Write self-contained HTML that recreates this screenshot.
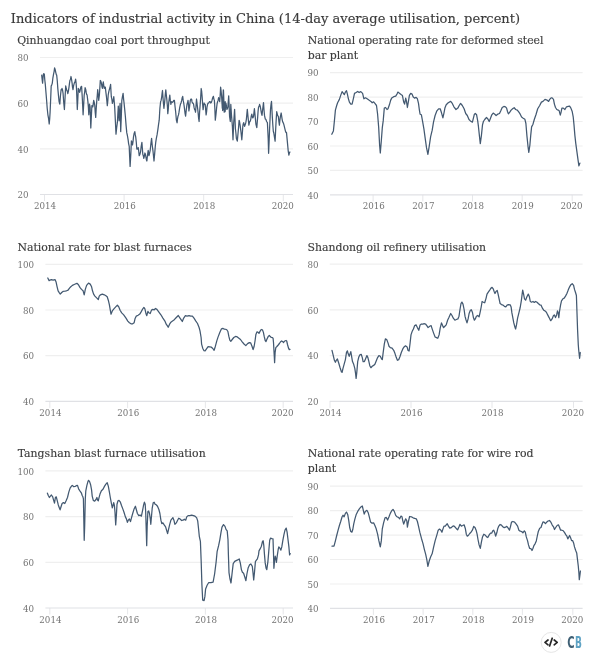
<!DOCTYPE html>
<html><head><meta charset="utf-8"><title>Indicators of industrial activity in China</title>
<style>html,body{margin:0;padding:0;background:#fff;width:606px;height:672px;overflow:hidden}svg{display:block}text{font-family:'DejaVu Serif', 'Liberation Serif', serif}</style>
</head><body>
<svg width="606" height="672" viewBox="0 0 606 672">
<rect width="606" height="672" fill="#fff"/>
<text x="10.8" y="22.7" font-size="13.04" fill="#3a3a3a" text-anchor="start" stroke="#3a3a3a" stroke-width="0.15">Indicators of industrial activity in China (14-day average utilisation, percent)</text>
<text x="17.2" y="43.7" font-size="10.9" fill="#3d3d3d" text-anchor="start" stroke="#444" stroke-width="0.15">Qinhuangdao coal port throughput</text>
<text x="28.6" y="61.2" font-size="8.7" fill="#737373" text-anchor="end">80</text>
<text x="28.6" y="106.9" font-size="8.7" fill="#737373" text-anchor="end">60</text>
<text x="28.6" y="152.5" font-size="8.7" fill="#737373" text-anchor="end">40</text>
<text x="28.6" y="198.2" font-size="8.7" fill="#737373" text-anchor="end">20</text>
<line x1="40" y1="57.5" x2="293" y2="57.5" stroke="#efefef" stroke-width="1.2"/>
<line x1="40" y1="103.2" x2="293" y2="103.2" stroke="#efefef" stroke-width="1.2"/>
<line x1="40" y1="148.8" x2="293" y2="148.8" stroke="#efefef" stroke-width="1.2"/>
<line x1="40" y1="194.5" x2="293" y2="194.5" stroke="#e0e1e5" stroke-width="1.2"/>
<line x1="44.5" y1="194.5" x2="44.5" y2="201.0" stroke="#e0e1e5" stroke-width="0.8"/>
<text x="45.1" y="209.0" font-size="8.7" fill="#737373" text-anchor="middle">2014</text>
<line x1="124.1" y1="194.5" x2="124.1" y2="201.0" stroke="#e0e1e5" stroke-width="0.8"/>
<text x="124.7" y="209.0" font-size="8.7" fill="#737373" text-anchor="middle">2016</text>
<line x1="203.7" y1="194.5" x2="203.7" y2="201.0" stroke="#e0e1e5" stroke-width="0.8"/>
<text x="204.3" y="209.0" font-size="8.7" fill="#737373" text-anchor="middle">2018</text>
<line x1="283.3" y1="194.5" x2="283.3" y2="201.0" stroke="#e0e1e5" stroke-width="0.8"/>
<text x="282.7" y="209.0" font-size="8.7" fill="#737373" text-anchor="middle">2020</text>
<path d="M41.7,75.2 L42.2,79.9 L42.6,83.1 L43.3,74.5 L43.8,73.6 L44.3,74.1 L44.8,80.0 L45.3,84.4 L45.9,91.7 L46.6,100.3 L47.2,108.2 L47.9,114.8 L48.6,118.7 L49.2,124.0 L49.7,118.8 L50.1,112.2 L50.7,98.3 L51.2,85.8 L51.7,85.1 L52.3,83.1 L52.9,77.8 L53.6,73.9 L54.1,71.6 L54.6,67.9 L55.2,69.6 L55.8,72.6 L56.3,74.6 L56.7,75.2 L57.3,81.1 L57.8,88.4 L58.5,95.7 L59.1,101.6 L59.8,104.2 L60.4,96.3 L61.1,89.7 L61.6,89.8 L62.0,88.4 L62.6,90.3 L63.1,93.7 L63.7,102.3 L64.4,109.5 L65.1,96.9 L65.7,85.8 L66.3,88.8 L66.8,90.4 L67.3,91.3 L67.8,93.7 L68.4,91.1 L69.0,87.1 L69.5,83.1 L69.9,80.5 L70.5,79.2 L71.0,76.5 L71.5,79.1 L72.1,83.1 L72.5,87.1 L73.0,89.7 L73.6,85.7 L74.3,83.1 L75.0,81.8 L75.6,79.2 L76.1,83.1 L76.5,88.4 L77.3,109.5 L77.8,99.7 L78.3,88.4 L78.9,89.7 L79.6,92.4 L80.0,91.1 L80.5,88.4 L81.0,86.7 L81.6,86.4 L82.2,96.3 L82.7,106.3 L83.1,114.8 L83.7,104.2 L84.2,95.0 L84.7,92.1 L85.1,87.7 L85.7,89.4 L86.2,92.4 L86.6,94.4 L87.1,95.0 L87.9,101.6 L88.4,107.5 L88.8,114.8 L89.5,104.2 L90.1,106.9 L90.8,128.0 L91.3,117.5 L91.9,105.6 L92.3,105.5 L92.8,106.9 L93.2,104.3 L93.7,100.3 L94.2,102.2 L94.8,105.6 L95.2,112.2 L95.7,117.4 L96.2,108.8 L96.7,101.6 L97.2,96.4 L97.7,89.7 L98.2,94.3 L98.7,100.3 L99.4,95.0 L99.8,88.4 L100.3,80.5 L100.8,81.1 L101.4,83.1 L101.9,86.5 L102.4,88.4 L102.9,84.4 L103.3,81.8 L103.8,85.8 L104.3,88.4 L104.8,87.0 L105.3,87.1 L105.9,92.4 L106.4,96.3 L106.8,100.2 L107.3,105.6 L107.8,101.0 L108.2,95.0 L108.8,91.7 L109.3,89.7 L109.9,87.8 L110.6,84.4 L111.3,96.7 L111.9,99.4 L112.4,103.4 L113.1,100.8 L113.8,96.7 L114.2,101.4 L114.7,107.4 L115.4,121.5 L116.0,134.2 L116.7,127.5 L117.4,122.2 L117.8,114.8 L118.3,106.1 L119.1,120.8 L119.6,111.4 L120.1,103.4 L120.7,131.6 L121.3,116.8 L121.8,100.7 L122.5,96.3 L123.1,93.4 L123.6,99.1 L124.1,103.4 L124.7,109.4 L125.4,116.8 L126.1,125.6 L126.8,132.9 L127.4,135.5 L128.1,139.6 L128.6,143.6 L129.2,146.3 L129.6,155.7 L130.1,166.4 L130.8,154.4 L131.4,140.9 L132.0,142.2 L132.5,145.0 L133.0,141.6 L133.5,136.9 L134.1,133.5 L134.8,131.6 L135.3,134.9 L135.7,136.9 L136.3,142.2 L136.8,149.0 L137.5,149.0 L138.2,147.6 L138.7,151.0 L139.2,155.7 L139.9,154.4 L140.6,151.7 L141.2,146.3 L141.9,142.3 L142.4,149.0 L142.8,154.3 L143.3,155.7 L143.8,158.4 L144.3,156.4 L144.9,153.0 L145.4,154.3 L145.9,157.0 L146.4,159.7 L146.9,161.0 L147.5,155.0 L148.2,150.3 L148.9,155.7 L149.5,153.7 L150.2,150.3 L150.9,143.6 L151.6,138.3 L152.2,145.0 L152.9,150.3 L153.4,155.0 L154.0,161.0 L154.6,154.4 L155.3,146.3 L155.8,141.8 L156.3,138.6 L157.1,134.7 L157.9,129.4 L158.6,124.1 L159.2,120.2 L159.9,108.3 L160.6,101.7 L161.1,100.4 L161.6,97.7 L162.1,93.4 L162.5,90.5 L163.2,100.4 L163.9,108.3 L164.3,105.0 L164.8,100.4 L165.3,94.4 L165.8,89.8 L166.4,95.8 L166.9,100.4 L167.4,106.3 L167.8,113.6 L168.3,109.0 L168.7,103.0 L169.3,98.3 L169.8,95.1 L170.3,100.4 L170.9,104.3 L171.3,102.3 L171.8,101.7 L172.4,102.4 L173.1,101.7 L173.8,100.3 L174.4,100.4 L175.1,107.0 L175.7,112.2 L176.4,120.2 L177.1,122.8 L177.5,118.8 L178.0,116.2 L178.5,114.9 L179.0,112.2 L179.7,107.6 L180.4,104.3 L181.0,103.0 L181.7,100.4 L182.2,97.7 L182.7,96.4 L183.2,100.4 L183.7,103.0 L184.1,105.6 L184.6,109.6 L185.1,113.6 L185.6,116.2 L186.3,109.6 L187.0,104.3 L187.5,103.0 L188.0,100.4 L188.5,104.9 L188.9,110.9 L189.6,106.3 L190.3,100.4 L190.9,99.0 L191.6,99.0 L192.0,101.7 L192.5,103.0 L193.0,103.0 L193.6,104.3 L194.1,107.7 L194.6,109.6 L195.1,110.2 L195.5,112.2 L196.0,106.3 L196.5,99.0 L197.3,105.6 L197.7,108.9 L198.2,113.6 L198.6,118.2 L199.1,121.5 L199.6,112.2 L200.2,104.3 L200.7,97.1 L201.2,88.5 L201.7,91.7 L202.1,96.4 L202.6,103.7 L203.1,109.6 L203.6,105.6 L204.1,103.0 L204.7,104.4 L205.2,104.3 L205.6,108.9 L206.1,114.9 L206.6,111.6 L207.0,107.0 L207.6,104.3 L208.1,103.0 L208.7,103.0 L209.4,101.7 L210.1,101.6 L210.7,103.0 L211.4,102.4 L212.0,100.4 L212.7,97.7 L213.4,96.4 L213.9,99.1 L214.4,100.4 L214.9,109.6 L215.3,120.2 L216.0,114.3 L216.7,107.0 L217.1,103.6 L217.6,101.7 L218.1,100.4 L218.6,97.7 L219.2,99.0 L219.7,101.7 L220.2,95.1 L220.6,87.2 L221.1,91.1 L221.6,96.4 L222.3,108.3 L222.8,99.7 L223.3,89.8 L223.7,100.3 L224.2,112.2 L224.7,107.7 L225.2,101.7 L222.6,110.5 L223.5,90.4 L224.2,110.5 L225.1,111.7 L225.9,103.2 L226.4,105.6 L226.9,109.3 L227.4,108.8 L227.9,106.9 L228.7,95.9 L229.6,116.6 L230.3,121.5 L230.8,104.4 L231.5,115.4 L232.4,126.4 L233.0,139.8 L233.7,122.7 L234.6,109.3 L235.4,128.8 L235.9,133.0 L236.4,138.6 L237.3,141.1 L238.1,132.5 L238.6,127.1 L239.1,120.3 L239.6,122.0 L240.1,125.2 L240.9,131.3 L241.8,139.8 L242.3,133.8 L242.8,126.4 L243.2,123.9 L243.7,122.7 L244.6,126.4 L245.4,124.0 L245.9,122.2 L246.4,119.1 L247.3,109.3 L248.0,116.6 L248.9,125.2 L249.4,122.6 L249.8,121.5 L250.3,121.0 L250.8,119.1 L251.3,115.9 L251.8,114.2 L252.3,116.7 L252.8,117.9 L253.5,116.6 L254.4,108.7 L255.2,116.6 L255.9,124.0 L256.8,127.6 L257.7,116.6 L258.1,111.0 L258.6,106.9 L259.1,106.3 L259.6,104.4 L260.2,106.2 L260.8,109.3 L261.4,113.1 L262.0,115.4 L262.8,108.3 L263.5,102.6 L264.0,109.7 L264.5,115.4 L265.3,119.1 L266.0,119.6 L266.6,121.5 L267.4,122.7 L268.2,138.6 L268.6,153.3 L269.1,141.8 L269.6,128.8 L270.5,109.3 L271.0,104.6 L271.5,101.4 L272.3,116.6 L272.8,124.7 L273.3,131.3 L273.8,133.0 L274.3,136.2 L275.1,141.1 L276.0,122.7 L276.7,111.7 L277.6,115.4 L278.4,116.6 L278.9,121.6 L279.4,125.2 L279.9,120.2 L280.4,116.6 L281.2,113.0 L282.1,119.1 L282.6,121.6 L283.1,122.7 L283.5,123.3 L284.0,125.2 L284.9,128.8 L285.5,131.3 L286.0,132.6 L286.5,132.5 L287.3,141.1 L288.2,150.8 L288.9,155.1 L289.4,152.9 L289.9,152.0" fill="none" stroke="#435971" stroke-width="1.25" stroke-linejoin="round" stroke-linecap="round"/>
<text x="307.7" y="44.0" font-size="10.9" fill="#3d3d3d" text-anchor="start" stroke="#444" stroke-width="0.15">National operating rate for deformed steel</text>
<text x="307.7" y="59.1" font-size="10.9" fill="#3d3d3d" text-anchor="start" stroke="#444" stroke-width="0.15">bar plant</text>
<text x="318.5" y="76.3" font-size="8.7" fill="#737373" text-anchor="end">90</text>
<text x="318.5" y="100.8" font-size="8.7" fill="#737373" text-anchor="end">80</text>
<text x="318.5" y="125.2" font-size="8.7" fill="#737373" text-anchor="end">70</text>
<text x="318.5" y="149.7" font-size="8.7" fill="#737373" text-anchor="end">60</text>
<text x="318.5" y="174.1" font-size="8.7" fill="#737373" text-anchor="end">50</text>
<text x="318.5" y="198.6" font-size="8.7" fill="#737373" text-anchor="end">40</text>
<line x1="330" y1="72.6" x2="582.6" y2="72.6" stroke="#efefef" stroke-width="1.2"/>
<line x1="330" y1="97.1" x2="582.6" y2="97.1" stroke="#efefef" stroke-width="1.2"/>
<line x1="330" y1="121.5" x2="582.6" y2="121.5" stroke="#efefef" stroke-width="1.2"/>
<line x1="330" y1="146.0" x2="582.6" y2="146.0" stroke="#efefef" stroke-width="1.2"/>
<line x1="330" y1="170.4" x2="582.6" y2="170.4" stroke="#efefef" stroke-width="1.2"/>
<line x1="330" y1="194.9" x2="582.6" y2="194.9" stroke="#e0e1e5" stroke-width="1.2"/>
<line x1="373.1" y1="194.9" x2="373.1" y2="201.4" stroke="#e0e1e5" stroke-width="0.8"/>
<text x="373.7" y="209.0" font-size="8.7" fill="#737373" text-anchor="middle">2016</text>
<line x1="422.8" y1="194.9" x2="422.8" y2="201.4" stroke="#e0e1e5" stroke-width="0.8"/>
<text x="423.4" y="209.0" font-size="8.7" fill="#737373" text-anchor="middle">2017</text>
<line x1="472.5" y1="194.9" x2="472.5" y2="201.4" stroke="#e0e1e5" stroke-width="0.8"/>
<text x="473.1" y="209.0" font-size="8.7" fill="#737373" text-anchor="middle">2018</text>
<line x1="522.2" y1="194.9" x2="522.2" y2="201.4" stroke="#e0e1e5" stroke-width="0.8"/>
<text x="522.8" y="209.0" font-size="8.7" fill="#737373" text-anchor="middle">2019</text>
<line x1="572.2" y1="194.9" x2="572.2" y2="201.4" stroke="#e0e1e5" stroke-width="0.8"/>
<text x="571.6" y="209.0" font-size="8.7" fill="#737373" text-anchor="middle">2020</text>
<path d="M331.8,134.3 L333.4,130.9 L334.4,120.9 L335.4,110.1 L336.7,105.5 L337.6,102.8 L339.4,99.4 L340.7,95.4 L342.1,91.6 L343.4,93.4 L344.3,94.7 L345.4,92.1 L346.5,90.7 L347.4,94.1 L348.4,98.8 L349.4,102.1 L350.8,104.1 L352.1,104.1 L353.5,98.1 L354.5,93.4 L356.1,92.5 L357.7,91.4 L359.1,92.5 L360.8,91.6 L362.6,93.4 L363.9,98.8 L365.5,97.8 L367.1,98.8 L368.9,100.1 L370.9,101.4 L372.2,102.8 L373.6,101.8 L374.9,103.4 L376.5,105.5 L377.6,114.2 L378.7,127.6 L379.6,145.0 L380.3,153.0 L381.3,141.0 L382.3,127.6 L383.2,120.9 L384.3,108.1 L385.6,107.5 L387.0,109.5 L388.0,108.8 L389.4,104.8 L390.7,100.1 L391.7,98.1 L393.7,96.7 L395.7,96.1 L397.0,94.1 L397.9,92.1 L399.7,93.4 L401.4,94.7 L402.4,95.4 L403.7,102.1 L404.6,104.1 L405.7,98.1 L406.4,100.8 L407.4,107.5 L408.3,102.1 L409.4,95.4 L410.7,93.4 L412.1,94.1 L413.1,96.7 L414.5,98.1 L416.1,97.4 L417.4,98.8 L418.5,103.4 L419.4,110.1 L420.1,114.2 L421.4,114.8 L422.5,120.9 L423.9,128.9 L425.2,138.3 L426.5,147.7 L427.9,154.4 L429.2,146.3 L430.6,136.9 L432.2,130.2 L433.5,122.2 L435.1,115.5 L436.9,110.8 L438.6,108.8 L440.2,108.8 L441.5,112.8 L442.9,117.9 L444.0,112.8 L444.9,108.1 L446.2,104.8 L448.2,102.8 L450.7,101.4 L452.3,103.4 L453.9,106.8 L456.0,109.5 L457.9,108.1 L459.2,105.5 L460.6,103.4 L462.3,105.5 L464.1,108.8 L465.7,113.5 L467.3,115.5 L469.0,119.5 L470.4,120.9 L472.4,122.2 L473.4,118.2 L474.4,114.2 L475.3,113.5 L476.6,114.8 L477.7,120.9 L478.4,126.2 L479.4,135.6 L480.3,143.6 L481.4,135.6 L482.5,124.9 L483.4,121.5 L484.7,119.5 L486.5,117.5 L487.8,118.9 L489.2,121.5 L490.5,118.2 L491.8,114.8 L493.2,113.1 L494.8,114.2 L496.1,115.5 L497.7,114.2 L499.5,113.5 L500.8,110.8 L502.2,107.5 L503.9,106.4 L505.5,106.8 L506.6,108.1 L507.5,111.5 L508.4,113.9 L509.8,112.2 L511.1,110.1 L512.9,108.5 L514.2,107.7 L515.6,109.5 L517.3,110.1 L518.9,112.2 L520.2,114.2 L521.6,117.1 L523.2,118.2 L524.9,119.3 L525.9,123.5 L526.9,135.6 L528.0,146.3 L528.8,152.4 L529.9,145.0 L530.7,135.6 L531.6,126.9 L533.0,124.2 L534.3,119.5 L536.1,114.2 L537.7,108.8 L539.7,105.5 L541.4,102.1 L543.0,101.4 L545.0,99.4 L547.0,100.1 L548.6,101.4 L549.7,99.4 L551.1,97.8 L552.1,97.8 L553.5,99.4 L554.4,104.1 L555.5,107.5 L556.8,109.5 L558.2,110.1 L559.2,110.8 L560.3,115.2 L561.1,112.2 L561.9,108.1 L563.3,108.1 L564.9,109.5 L566.5,106.8 L568.2,106.4 L569.6,106.1 L570.9,108.1 L572.2,111.5 L573.2,116.8 L574.0,124.9 L574.9,135.6 L575.8,143.6 L576.9,151.7 L578.0,159.7 L578.9,165.8 L579.9,163.1" fill="none" stroke="#435971" stroke-width="1.25" stroke-linejoin="round" stroke-linecap="round"/>
<text x="17.4" y="250.6" font-size="10.9" fill="#3d3d3d" text-anchor="start" stroke="#444" stroke-width="0.15">National rate for blast furnaces</text>
<text x="34.0" y="268.0" font-size="8.7" fill="#737373" text-anchor="end">100</text>
<text x="34.0" y="313.7" font-size="8.7" fill="#737373" text-anchor="end">80</text>
<text x="34.0" y="359.4" font-size="8.7" fill="#737373" text-anchor="end">60</text>
<text x="34.0" y="405.1" font-size="8.7" fill="#737373" text-anchor="end">40</text>
<line x1="45.4" y1="264.3" x2="293" y2="264.3" stroke="#efefef" stroke-width="1.2"/>
<line x1="45.4" y1="310.0" x2="293" y2="310.0" stroke="#efefef" stroke-width="1.2"/>
<line x1="45.4" y1="355.7" x2="293" y2="355.7" stroke="#efefef" stroke-width="1.2"/>
<line x1="45.4" y1="401.4" x2="293" y2="401.4" stroke="#e0e1e5" stroke-width="1.2"/>
<line x1="49.8" y1="401.4" x2="49.8" y2="407.9" stroke="#e0e1e5" stroke-width="0.8"/>
<text x="50.4" y="416.0" font-size="8.7" fill="#737373" text-anchor="middle">2014</text>
<line x1="127.6" y1="401.4" x2="127.6" y2="407.9" stroke="#e0e1e5" stroke-width="0.8"/>
<text x="128.2" y="416.0" font-size="8.7" fill="#737373" text-anchor="middle">2016</text>
<line x1="205.4" y1="401.4" x2="205.4" y2="407.9" stroke="#e0e1e5" stroke-width="0.8"/>
<text x="206.0" y="416.0" font-size="8.7" fill="#737373" text-anchor="middle">2018</text>
<line x1="283.2" y1="401.4" x2="283.2" y2="407.9" stroke="#e0e1e5" stroke-width="0.8"/>
<text x="282.6" y="416.0" font-size="8.7" fill="#737373" text-anchor="middle">2020</text>
<path d="M47.8,278.0 L49.1,280.7 L50.0,280.1 L51.4,279.6 L53.1,280.1 L55.0,279.6 L56.1,282.1 L57.1,286.8 L58.1,290.8 L59.4,292.8 L60.3,294.1 L61.7,292.5 L63.0,291.4 L64.8,291.2 L66.5,290.8 L68.1,290.1 L69.5,288.1 L70.8,286.8 L72.4,285.4 L74.2,284.5 L75.9,283.7 L77.2,283.4 L78.6,285.0 L79.9,287.4 L81.5,289.4 L83.1,290.8 L84.2,294.8 L85.3,289.4 L86.6,285.4 L88.5,283.1 L90.2,284.1 L91.6,286.8 L92.5,290.8 L93.6,294.1 L94.9,296.1 L96.9,298.1 L98.3,299.5 L99.2,296.1 L100.5,294.8 L102.3,294.1 L104.3,294.8 L105.9,295.7 L107.2,296.8 L108.3,300.2 L109.4,304.8 L110.3,310.2 L111.0,314.2 L112.3,310.9 L113.9,308.9 L115.7,306.9 L117.4,305.1 L118.8,306.9 L120.1,310.2 L121.7,312.9 L123.7,314.9 L126.0,318.1 L127.8,321.1 L129.4,322.8 L131.0,323.8 L132.7,323.8 L134.1,322.8 L135.0,318.8 L136.3,316.1 L138.1,315.2 L139.8,314.1 L141.4,311.4 L142.8,308.8 L143.9,307.4 L144.9,308.8 L146.1,314.1 L146.8,315.7 L147.9,311.4 L148.8,312.8 L150.2,313.5 L151.5,310.1 L152.8,309.4 L154.2,309.8 L155.5,308.5 L156.9,309.4 L158.9,312.1 L160.9,314.8 L162.9,318.1 L164.9,321.1 L166.2,324.2 L167.6,326.2 L168.2,327.3 L169.6,324.2 L170.9,322.2 L172.5,321.1 L174.3,319.7 L176.3,317.5 L178.3,315.5 L180.0,318.1 L181.4,320.2 L182.3,321.5 L183.7,318.1 L185.4,315.7 L187.0,316.1 L189.0,315.7 L190.8,316.1 L192.4,316.1 L194.0,318.1 L195.7,320.8 L197.5,323.5 L199.1,327.5 L200.0,330.8 L201.1,337.5 L201.6,344.2 L202.7,348.2 L204.0,350.7 L205.1,350.9 L206.5,348.9 L208.1,346.6 L209.7,346.9 L211.4,347.2 L212.8,348.5 L214.1,350.3 L215.4,346.2 L216.8,340.9 L218.1,336.9 L219.9,332.2 L221.5,328.8 L222.8,328.4 L224.4,329.2 L226.6,329.5 L227.9,331.5 L228.8,336.2 L229.8,340.2 L230.8,341.3 L232.2,339.5 L233.8,337.5 L235.5,336.4 L237.3,336.9 L238.9,338.2 L240.5,339.5 L242.2,341.8 L244.0,344.0 L245.8,345.6 L247.6,343.6 L249.3,342.6 L250.7,342.9 L252.0,346.2 L253.1,349.6 L254.1,346.5 L255.1,340.5 L255.9,334.4 L256.9,331.9 L257.9,332.2 L259.0,333.4 L260.0,331.4 L261.2,329.5 L262.4,329.8 L263.4,332.4 L264.2,336.4 L265.2,340.5 L266.0,341.5 L267.0,339.0 L268.3,336.4 L269.3,335.4 L270.3,336.6 L271.3,337.4 L272.5,337.6 L273.1,338.4 L273.5,342.5 L273.9,349.6 L274.3,356.7 L274.6,362.7 L275.1,352.6 L275.8,347.6 L276.9,346.5 L278.2,345.0 L279.4,343.5 L280.4,342.0 L281.6,341.0 L282.6,341.5 L283.6,342.5 L284.7,341.0 L286.0,340.5 L286.7,341.0 L287.5,344.5 L288.5,348.1 L289.3,349.6 L290.0,349.4" fill="none" stroke="#435971" stroke-width="1.25" stroke-linejoin="round" stroke-linecap="round"/>
<text x="307.5" y="250.6" font-size="10.9" fill="#3d3d3d" text-anchor="start" stroke="#444" stroke-width="0.15">Shandong oil refinery utilisation</text>
<text x="318.5" y="267.9" font-size="8.7" fill="#737373" text-anchor="end">80</text>
<text x="318.5" y="313.6" font-size="8.7" fill="#737373" text-anchor="end">60</text>
<text x="318.5" y="359.4" font-size="8.7" fill="#737373" text-anchor="end">40</text>
<text x="318.5" y="405.1" font-size="8.7" fill="#737373" text-anchor="end">20</text>
<line x1="329.7" y1="264.2" x2="582.6" y2="264.2" stroke="#efefef" stroke-width="1.2"/>
<line x1="329.7" y1="309.9" x2="582.6" y2="309.9" stroke="#efefef" stroke-width="1.2"/>
<line x1="329.7" y1="355.7" x2="582.6" y2="355.7" stroke="#efefef" stroke-width="1.2"/>
<line x1="329.7" y1="401.4" x2="582.6" y2="401.4" stroke="#e0e1e5" stroke-width="1.2"/>
<line x1="330.0" y1="401.4" x2="330.0" y2="407.9" stroke="#e0e1e5" stroke-width="0.8"/>
<text x="330.6" y="416.0" font-size="8.7" fill="#737373" text-anchor="middle">2014</text>
<line x1="411.0" y1="401.4" x2="411.0" y2="407.9" stroke="#e0e1e5" stroke-width="0.8"/>
<text x="411.6" y="416.0" font-size="8.7" fill="#737373" text-anchor="middle">2016</text>
<line x1="492.0" y1="401.4" x2="492.0" y2="407.9" stroke="#e0e1e5" stroke-width="0.8"/>
<text x="492.6" y="416.0" font-size="8.7" fill="#737373" text-anchor="middle">2018</text>
<line x1="573.5" y1="401.4" x2="573.5" y2="407.9" stroke="#e0e1e5" stroke-width="0.8"/>
<text x="572.9" y="416.0" font-size="8.7" fill="#737373" text-anchor="middle">2020</text>
<path d="M332.0,350.3 L333.1,354.9 L334.4,360.3 L335.4,362.3 L336.3,360.3 L337.4,359.0 L338.7,363.0 L340.1,367.7 L341.4,371.7 L342.1,372.4 L343.0,368.3 L344.1,364.3 L345.4,359.6 L346.5,352.3 L347.4,350.9 L348.1,353.6 L349.2,356.3 L350.1,353.6 L350.8,351.6 L351.6,356.3 L352.5,361.6 L353.7,364.3 L354.8,368.3 L355.6,373.7 L356.1,378.4 L356.8,372.4 L357.7,361.6 L358.8,357.0 L359.9,354.9 L361.2,354.3 L362.3,357.6 L363.1,361.6 L364.4,361.6 L365.5,359.0 L366.9,355.6 L367.9,357.6 L368.9,361.6 L369.8,365.7 L370.9,367.7 L372.2,366.3 L373.6,365.4 L374.9,364.3 L376.2,361.0 L377.6,357.6 L378.9,355.6 L380.3,356.3 L381.6,359.0 L382.3,359.6 L383.2,352.3 L384.3,344.2 L385.4,338.9 L386.7,339.5 L388.0,342.9 L389.0,346.2 L390.3,347.6 L392.1,348.2 L393.7,350.3 L395.0,353.6 L396.3,357.6 L397.4,360.3 L398.8,359.6 L400.1,356.3 L401.4,352.3 L402.8,348.9 L404.1,346.9 L405.5,345.8 L407.1,346.9 L408.0,350.4 L409.1,351.0 L410.1,343.0 L411.0,334.9 L412.1,331.6 L413.4,328.9 L414.7,325.6 L416.1,324.9 L417.4,327.6 L418.8,330.3 L420.1,324.9 L421.4,324.0 L422.8,324.2 L424.1,323.6 L425.5,324.0 L426.8,325.6 L428.1,327.6 L429.7,326.2 L431.1,325.6 L432.4,329.6 L433.8,333.6 L435.1,337.0 L436.4,337.6 L437.8,338.3 L439.1,334.9 L440.2,328.2 L441.5,322.9 L442.6,325.6 L443.6,327.6 L444.9,326.2 L446.2,324.9 L447.6,320.2 L448.9,317.5 L450.7,313.5 L452.0,315.5 L453.3,318.2 L454.9,320.2 L456.3,319.5 L457.9,318.9 L459.0,316.2 L460.0,309.5 L461.0,303.5 L461.9,302.1 L463.0,304.1 L464.1,309.5 L465.0,316.2 L465.9,319.5 L467.0,322.9 L468.1,318.9 L469.1,313.5 L470.4,310.2 L471.3,309.7 L472.4,312.2 L473.4,317.5 L474.4,320.2 L475.3,318.9 L476.4,316.2 L477.7,315.5 L479.1,316.9 L480.0,312.9 L481.1,307.5 L482.1,301.5 L483.4,302.2 L484.7,302.8 L486.1,298.1 L487.0,294.1 L488.3,292.1 L489.7,290.1 L491.0,288.1 L492.1,287.4 L493.2,288.8 L494.1,291.4 L495.0,293.5 L496.1,291.4 L497.2,290.4 L498.1,294.1 L499.1,298.8 L500.1,303.5 L501.5,304.6 L503.1,305.1 L504.4,306.4 L505.8,306.9 L507.1,305.1 L508.4,304.6 L510.2,304.8 L511.1,306.9 L511.9,312.9 L512.9,318.2 L513.8,322.9 L514.9,327.0 L515.6,329.0 L516.5,324.9 L517.6,318.2 L518.9,312.9 L520.2,307.5 L521.3,300.8 L522.3,292.8 L522.7,290.1 L523.6,294.1 L524.5,298.8 L525.6,300.2 L526.9,296.8 L528.3,294.1 L529.4,296.8 L530.3,301.5 L531.6,302.2 L533.0,301.5 L534.3,302.4 L535.7,301.5 L537.0,302.2 L538.3,303.5 L539.7,304.8 L541.0,305.1 L542.4,308.2 L543.7,310.2 L545.0,310.9 L546.4,312.2 L547.7,314.9 L549.1,317.6 L550.4,320.3 L550.8,320.7 L552.1,318.9 L553.5,315.6 L554.4,314.9 L555.5,317.6 L556.6,314.9 L557.5,310.9 L558.2,312.9 L558.8,317.6 L559.5,311.5 L560.6,304.8 L561.5,300.8 L562.9,298.8 L564.2,298.1 L565.5,296.1 L566.9,293.5 L568.2,290.1 L569.6,286.8 L570.9,284.7 L572.2,283.7 L573.6,285.4 L574.5,289.4 L575.6,292.8 L576.4,295.5 L576.9,310.2 L577.6,330.3 L578.3,345.0 L578.7,350.0 L579.6,358.3 L580.3,352.5" fill="none" stroke="#435971" stroke-width="1.25" stroke-linejoin="round" stroke-linecap="round"/>
<text x="17.7" y="457.3" font-size="10.9" fill="#3d3d3d" text-anchor="start" stroke="#444" stroke-width="0.15">Tangshan blast furnace utilisation</text>
<text x="34.0" y="474.6" font-size="8.7" fill="#737373" text-anchor="end">100</text>
<text x="34.0" y="520.3" font-size="8.7" fill="#737373" text-anchor="end">80</text>
<text x="34.0" y="566.0" font-size="8.7" fill="#737373" text-anchor="end">60</text>
<text x="34.0" y="611.7" font-size="8.7" fill="#737373" text-anchor="end">40</text>
<line x1="45.4" y1="470.9" x2="293" y2="470.9" stroke="#efefef" stroke-width="1.2"/>
<line x1="45.4" y1="516.6" x2="293" y2="516.6" stroke="#efefef" stroke-width="1.2"/>
<line x1="45.4" y1="562.3" x2="293" y2="562.3" stroke="#efefef" stroke-width="1.2"/>
<line x1="45.4" y1="608.0" x2="293" y2="608.0" stroke="#e0e1e5" stroke-width="1.2"/>
<line x1="49.8" y1="608.0" x2="49.8" y2="614.5" stroke="#e0e1e5" stroke-width="0.8"/>
<text x="50.4" y="622.7" font-size="8.7" fill="#737373" text-anchor="middle">2014</text>
<line x1="127.6" y1="608.0" x2="127.6" y2="614.5" stroke="#e0e1e5" stroke-width="0.8"/>
<text x="128.2" y="622.7" font-size="8.7" fill="#737373" text-anchor="middle">2016</text>
<line x1="205.4" y1="608.0" x2="205.4" y2="614.5" stroke="#e0e1e5" stroke-width="0.8"/>
<text x="206.0" y="622.7" font-size="8.7" fill="#737373" text-anchor="middle">2018</text>
<line x1="283.2" y1="608.0" x2="283.2" y2="614.5" stroke="#e0e1e5" stroke-width="0.8"/>
<text x="282.6" y="622.7" font-size="8.7" fill="#737373" text-anchor="middle">2020</text>
<path d="M47.4,493.2 L48.3,495.5 L49.4,497.5 L50.4,496.1 L51.4,495.0 L52.7,496.8 L53.6,500.1 L54.5,503.1 L55.4,497.5 L56.3,496.8 L57.1,500.1 L58.1,504.2 L59.0,507.1 L60.1,509.8 L61.2,506.2 L62.1,503.5 L63.4,502.6 L64.8,503.5 L66.1,500.8 L67.5,497.5 L68.8,492.1 L70.1,488.1 L71.5,486.1 L72.4,485.4 L73.7,486.7 L75.1,486.5 L76.2,485.7 L77.5,485.4 L78.6,488.8 L79.9,490.8 L81.3,492.8 L82.2,495.5 L82.9,496.8 L83.4,498.8 L83.8,518.9 L84.2,540.3 L84.7,525.6 L85.3,498.8 L85.8,490.8 L86.9,485.4 L88.0,481.4 L88.6,480.3 L89.6,481.6 L90.6,484.7 L91.6,490.1 L92.2,496.1 L93.3,500.4 L94.7,501.2 L96.0,499.5 L96.9,497.5 L97.6,500.1 L98.3,500.8 L98.9,498.1 L100.0,494.1 L101.4,490.8 L103.0,489.2 L104.6,486.1 L105.9,484.1 L107.2,482.7 L108.3,486.1 L109.4,492.1 L110.3,497.5 L111.3,502.8 L112.3,507.9 L113.0,505.5 L113.7,502.6 L114.4,505.5 L115.0,512.2 L115.7,524.9 L116.4,514.9 L117.0,504.2 L118.0,500.8 L119.0,500.4 L120.4,502.2 L121.5,505.5 L122.8,508.9 L124.0,512.2 L125.4,516.9 L126.4,518.9 L127.4,522.3 L128.3,520.2 L129.4,518.9 L130.5,521.6 L131.4,518.2 L132.7,513.5 L134.1,508.9 L135.4,506.2 L136.3,509.5 L137.4,513.5 L138.8,515.6 L140.1,515.1 L141.4,516.2 L142.5,510.9 L143.5,505.5 L144.4,502.2 L145.2,504.2 L145.7,512.2 L146.3,532.3 L146.7,545.7 L147.2,525.6 L147.9,511.5 L148.7,510.9 L149.5,513.5 L150.3,518.9 L150.8,524.3 L151.5,516.2 L152.2,508.2 L153.2,502.8 L154.2,502.2 L155.1,504.2 L156.2,504.8 L157.5,506.2 L158.9,509.5 L159.9,513.5 L160.9,520.2 L161.8,523.6 L162.9,522.9 L164.2,524.9 L165.6,526.9 L166.6,530.3 L167.6,533.6 L168.5,529.6 L169.6,524.9 L170.9,520.2 L172.9,517.6 L173.9,520.2 L174.9,524.3 L176.3,522.9 L177.6,520.2 L178.7,518.2 L180.0,518.9 L181.6,520.5 L183.0,520.2 L184.3,519.2 L185.7,520.2 L186.7,516.9 L188.1,515.6 L189.7,515.6 L191.7,515.1 L193.4,515.6 L195.0,516.2 L196.6,517.6 L197.7,520.9 L198.5,528.3 L199.3,536.3 L200.4,541.3 L201.2,562.1 L201.9,584.5 L202.7,600.1 L204.1,600.6 L204.9,596.4 L205.6,588.9 L207.1,585.2 L208.6,582.7 L210.9,582.7 L213.1,582.2 L214.6,574.0 L216.1,562.1 L217.1,551.7 L218.6,545.7 L219.8,539.8 L221.0,532.3 L222.0,527.1 L223.5,524.6 L225.0,526.4 L226.0,529.4 L227.2,530.9 L228.0,539.8 L228.4,554.7 L229.0,572.6 L229.9,578.5 L231.0,583.0 L232.0,574.0 L233.2,563.6 L234.7,561.4 L236.2,560.6 L237.7,559.9 L239.2,558.9 L240.3,562.9 L241.4,569.6 L242.4,572.3 L243.6,573.3 L244.8,577.0 L245.9,580.7 L246.9,574.0 L248.1,568.1 L249.6,564.8 L250.8,563.9 L252.3,566.3 L253.0,572.6 L253.7,580.0 L254.5,572.3 L255.4,561.6 L256.4,560.2 L257.4,558.9 L258.5,554.9 L259.0,550.9 L260.1,548.9 L261.4,546.2 L262.5,541.5 L263.2,540.8 L263.8,545.5 L264.4,553.6 L265.2,562.9 L266.1,568.3 L266.8,569.6 L267.9,561.6 L268.8,550.9 L269.7,540.2 L270.5,538.2 L271.9,538.6 L273.0,538.8 L273.5,553.6 L273.9,568.3 L274.6,560.2 L275.2,556.2 L275.9,558.9 L276.4,562.3 L277.2,556.2 L278.2,549.5 L278.8,546.9 L279.9,548.2 L280.9,550.2 L281.8,546.9 L282.9,540.2 L283.9,534.8 L285.0,530.1 L286.2,528.1 L287.1,532.1 L287.9,538.8 L288.9,546.9 L289.6,554.9 L290.2,553.6" fill="none" stroke="#435971" stroke-width="1.25" stroke-linejoin="round" stroke-linecap="round"/>
<text x="307.7" y="457.3" font-size="10.9" fill="#3d3d3d" text-anchor="start" stroke="#444" stroke-width="0.15">National rate operating rate for wire rod</text>
<text x="307.7" y="472.4" font-size="10.9" fill="#3d3d3d" text-anchor="start" stroke="#444" stroke-width="0.15">plant</text>
<text x="318.5" y="489.9" font-size="8.7" fill="#737373" text-anchor="end">90</text>
<text x="318.5" y="514.3" font-size="8.7" fill="#737373" text-anchor="end">80</text>
<text x="318.5" y="538.8" font-size="8.7" fill="#737373" text-anchor="end">70</text>
<text x="318.5" y="563.2" font-size="8.7" fill="#737373" text-anchor="end">60</text>
<text x="318.5" y="587.7" font-size="8.7" fill="#737373" text-anchor="end">50</text>
<text x="318.5" y="612.1" font-size="8.7" fill="#737373" text-anchor="end">40</text>
<line x1="330" y1="486.2" x2="582.6" y2="486.2" stroke="#efefef" stroke-width="1.2"/>
<line x1="330" y1="510.6" x2="582.6" y2="510.6" stroke="#efefef" stroke-width="1.2"/>
<line x1="330" y1="535.1" x2="582.6" y2="535.1" stroke="#efefef" stroke-width="1.2"/>
<line x1="330" y1="559.5" x2="582.6" y2="559.5" stroke="#efefef" stroke-width="1.2"/>
<line x1="330" y1="584.0" x2="582.6" y2="584.0" stroke="#efefef" stroke-width="1.2"/>
<line x1="330" y1="608.4" x2="582.6" y2="608.4" stroke="#e0e1e5" stroke-width="1.2"/>
<line x1="373.4" y1="608.4" x2="373.4" y2="614.9" stroke="#e0e1e5" stroke-width="0.8"/>
<text x="374.0" y="622.7" font-size="8.7" fill="#737373" text-anchor="middle">2016</text>
<line x1="423.1" y1="608.4" x2="423.1" y2="614.9" stroke="#e0e1e5" stroke-width="0.8"/>
<text x="423.7" y="622.7" font-size="8.7" fill="#737373" text-anchor="middle">2017</text>
<line x1="472.8" y1="608.4" x2="472.8" y2="614.9" stroke="#e0e1e5" stroke-width="0.8"/>
<text x="473.4" y="622.7" font-size="8.7" fill="#737373" text-anchor="middle">2018</text>
<line x1="522.4" y1="608.4" x2="522.4" y2="614.9" stroke="#e0e1e5" stroke-width="0.8"/>
<text x="523.0" y="622.7" font-size="8.7" fill="#737373" text-anchor="middle">2019</text>
<line x1="572.8" y1="608.4" x2="572.8" y2="614.9" stroke="#e0e1e5" stroke-width="0.8"/>
<text x="572.2" y="622.7" font-size="8.7" fill="#737373" text-anchor="middle">2020</text>
<path d="M332.0,546.2 L334.0,546.2 L335.4,540.9 L336.7,535.5 L338.1,530.2 L339.4,525.5 L340.7,521.5 L342.1,516.8 L343.0,515.2 L344.1,516.8 L345.4,513.4 L346.5,512.1 L347.8,514.8 L348.8,520.8 L349.7,527.5 L350.8,531.5 L351.9,532.2 L352.8,529.5 L353.7,524.1 L354.8,519.4 L356.1,514.8 L357.7,511.4 L359.5,508.7 L361.2,506.7 L362.3,506.0 L363.1,509.4 L364.2,514.1 L365.3,511.4 L366.9,510.3 L368.2,512.7 L369.3,516.8 L370.6,522.1 L372.0,523.2 L373.6,522.8 L374.9,525.5 L376.2,528.8 L377.6,534.2 L378.9,540.9 L380.3,546.9 L381.3,540.9 L382.3,528.8 L383.6,522.8 L385.0,517.8 L386.3,517.4 L387.6,520.1 L389.0,516.8 L390.3,513.4 L391.7,510.7 L393.0,509.4 L394.3,511.4 L395.7,515.4 L397.0,516.8 L398.4,517.4 L399.7,518.8 L401.0,516.1 L402.0,516.8 L402.8,520.8 L403.7,524.1 L404.6,521.5 L405.7,518.8 L406.8,520.8 L407.4,527.2 L408.3,522.1 L409.6,516.5 L411.4,516.8 L413.1,517.8 L414.7,518.4 L416.3,518.8 L417.4,521.5 L418.5,526.1 L419.8,532.2 L421.4,538.2 L423.0,543.6 L424.4,549.6 L425.7,554.3 L426.8,559.6 L427.9,566.3 L429.2,561.0 L430.6,557.0 L432.2,553.6 L433.5,547.6 L435.1,540.9 L436.9,534.9 L438.2,530.2 L439.5,529.1 L440.9,530.2 L441.9,532.2 L442.9,529.1 L444.0,526.1 L445.3,526.1 L446.2,524.8 L447.2,523.7 L448.5,526.1 L449.8,528.2 L451.2,527.7 L452.5,526.4 L453.9,525.9 L455.2,527.2 L456.5,528.8 L457.6,529.9 L459.0,526.8 L460.0,524.3 L461.4,526.1 L462.7,525.5 L464.1,524.8 L465.4,528.8 L466.3,534.2 L467.3,536.2 L468.3,535.5 L469.7,533.5 L471.0,532.2 L472.4,530.2 L473.7,526.4 L475.0,527.5 L476.1,530.2 L477.1,534.2 L478.0,539.5 L479.1,544.9 L480.3,548.3 L481.4,542.2 L482.5,536.9 L483.8,534.2 L485.4,535.3 L486.7,536.9 L487.8,537.5 L489.2,534.9 L490.5,533.1 L491.8,533.1 L492.8,530.8 L493.7,530.2 L494.8,532.8 L495.6,536.2 L496.8,532.8 L497.7,528.8 L498.8,526.1 L500.1,524.5 L501.5,525.1 L502.8,526.8 L504.2,527.7 L505.5,527.2 L506.8,526.4 L508.2,528.2 L509.5,530.2 L510.6,526.1 L511.5,522.1 L512.9,521.5 L514.6,522.1 L516.2,524.1 L517.6,526.1 L518.9,530.2 L520.2,531.2 L521.6,531.5 L522.9,532.8 L524.3,530.8 L525.3,532.2 L526.3,536.9 L527.6,540.9 L528.5,544.9 L529.6,548.3 L531.0,548.7 L532.0,550.5 L533.0,548.3 L533.9,545.6 L535.2,543.6 L536.3,540.9 L537.4,535.5 L538.3,531.5 L539.7,528.2 L541.0,527.5 L541.9,524.8 L543.0,521.9 L544.4,522.4 L545.4,523.7 L546.8,522.1 L548.1,521.0 L549.5,520.5 L550.8,522.1 L552.1,524.8 L553.5,526.8 L554.5,529.5 L555.7,527.5 L557.1,525.5 L558.4,524.8 L559.5,527.2 L560.6,530.2 L561.9,530.2 L563.3,530.8 L564.6,532.6 L565.9,534.9 L566.9,536.2 L567.8,538.9 L568.9,536.9 L569.6,535.5 L570.5,537.5 L571.6,540.6 L572.6,540.6 L573.6,542.9 L574.5,546.9 L575.6,550.3 L576.7,552.9 L577.5,559.6 L578.3,566.3 L578.9,573.0 L579.3,579.7 L580.0,574.4 L580.4,571.0" fill="none" stroke="#435971" stroke-width="1.25" stroke-linejoin="round" stroke-linecap="round"/>
<circle cx="551.2" cy="642.4" r="10" fill="#fff" stroke="#e6e6e6" stroke-width="1"/>
<path d="M548,640 L545,642.4 L548,644.8 M554.2,640 L557.2,642.4 L554.2,644.8 M552.2,638.2 L549.6,646" fill="none" stroke="#262626" stroke-width="1.7" stroke-linecap="round" stroke-linejoin="round"/>
<text x="567.3" y="647.9" style="font-family:'DejaVu Sans Condensed', 'DejaVu Sans', sans-serif;font-weight:bold" font-size="16" fill="#3e5f74" textLength="7.3" lengthAdjust="spacingAndGlyphs">C</text>
<text x="574.9" y="647.9" style="font-family:'DejaVu Sans Condensed', 'DejaVu Sans', sans-serif;font-weight:bold" font-size="16" fill="#5fa3c4" textLength="6.9" lengthAdjust="spacingAndGlyphs">B</text>
</svg>
</body></html>
